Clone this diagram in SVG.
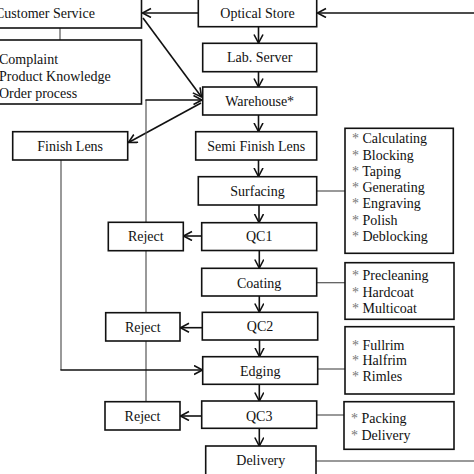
<svg xmlns="http://www.w3.org/2000/svg" width="474" height="474" viewBox="0 0 474 474">
<style>
  .box { fill: #fff; stroke: #111; stroke-width: 1.6; }
  .t { font-family: "Liberation Serif", "Times New Roman", serif; font-size: 14px; fill: #111; }
  .c { text-anchor: middle; }
  .ast { fill: #777; }
  .arr { fill: none; stroke: #111; stroke-width: 1.6; marker-end: url(#ah); }
  .thin { fill: none; stroke: #555; stroke-width: 1.2; }
</style>
<defs>
  <marker id="ah" markerWidth="12" markerHeight="12" refX="9" refY="5" orient="auto" markerUnits="userSpaceOnUse">
    <path d="M0.5,0.5 L9,5 L0.5,9.5" fill="none" stroke="#111" stroke-width="1.6"/>
  </marker>
</defs>
<rect width="474" height="474" fill="#fff"/>

<g id="connectors">
  <path class="arr" d="M474,13 H317.5"/>
  <path class="arr" d="M198,13 H142.5"/>
  <path class="arr" d="M143,18 L201.5,97"/>
  <path class="arr" d="M258.5,27 V43"/>
  <path class="arr" d="M258.5,72 V87"/>
  <path class="arr" d="M201,103 L128.5,142.5"/>
  <path class="arr" d="M258.5,115 V131.5"/>
  <path class="arr" d="M258.5,160 V176.5"/>
  <path class="arr" d="M259,205 V222.5"/>
  <path class="arr" d="M259.3,250.5 V268"/>
  <path class="arr" d="M259.3,296 V312"/>
  <path class="arr" d="M259.5,340 V356.5"/>
  <path class="arr" d="M259.3,384.3 V401"/>
  <path class="arr" d="M259.3,428.3 V446"/>
  <path class="arr" d="M201.7,236 H183.5"/>
  <path class="arr" d="M202.3,327.7 H180.5"/>
  <path class="arr" d="M201.7,416 H180.5"/>
  <path class="thin" d="M146,401.7 V100"/>
  <path class="arr" d="M145.4,100 H202"/>
  <path class="thin" d="M61,160 V370"/>
  <path class="arr" d="M60.4,370 H202.5"/>
  <path class="thin" d="M60,28 V40"/>
  <path class="thin" d="M316.7,191 H345"/>
  <path class="thin" d="M316.7,282.7 H345"/>
  <path class="thin" d="M317.7,369 H345"/>
  <path class="thin" d="M316.7,415 H344"/>
  <path class="thin" d="M316,461 H474" style="stroke:#777;stroke-width:1.6"/>
</g>

<g id="customer-service">
  <rect class="box" x="-20" y="-2" width="161.5" height="30"/>
  <text class="t" x="-5" y="18">Customer Service</text>
</g>
<g id="cs-tasks">
  <rect class="box" x="-20" y="40" width="161.5" height="64"/>
  <text class="t" x="-1" y="64">Complaint</text>
  <text class="t" x="-1" y="81">Product Knowledge</text>
  <text class="t" x="-1" y="98">Order process</text>
</g>
<g id="optical-store">
  <rect class="box" x="198.3" y="-2" width="118.4" height="28.7"/>
  <text class="t c" x="257.5" y="18">Optical Store</text>
</g>
<g id="lab-server">
  <rect class="box" x="202.7" y="43.3" width="114" height="28.4"/>
  <text class="t c" x="259.7" y="62">Lab. Server</text>
</g>
<g id="warehouse">
  <rect class="box" x="202.7" y="87" width="114" height="28"/>
  <text class="t c" x="259.7" y="105.5">Warehouse*</text>
</g>
<g id="finish-lens">
  <rect class="box" x="12.7" y="131.7" width="115" height="28.3"/>
  <text class="t c" x="70.2" y="150.5">Finish Lens</text>
</g>
<g id="semi-finish-lens">
  <rect class="box" x="195.7" y="131.7" width="121" height="28.3"/>
  <text class="t c" x="256.2" y="150.5">Semi Finish Lens</text>
</g>
<g id="surfacing">
  <rect class="box" x="198.3" y="176.7" width="118.4" height="28.3"/>
  <text class="t c" x="257.5" y="195.5">Surfacing</text>
</g>
<g id="surfacing-steps">
  <rect class="box" x="345" y="128.3" width="108.3" height="125"/>
  <text class="t" x="352" y="143"><tspan class="ast">*</tspan> Calculating</text>
  <text class="t" x="352" y="159.5"><tspan class="ast">*</tspan> Blocking</text>
  <text class="t" x="352" y="176"><tspan class="ast">*</tspan> Taping</text>
  <text class="t" x="352" y="192"><tspan class="ast">*</tspan> Generating</text>
  <text class="t" x="352" y="208"><tspan class="ast">*</tspan> Engraving</text>
  <text class="t" x="352" y="224.5"><tspan class="ast">*</tspan> Polish</text>
  <text class="t" x="352" y="241"><tspan class="ast">*</tspan> Deblocking</text>
</g>
<g id="qc1">
  <rect class="box" x="201.7" y="222.7" width="115" height="27.8"/>
  <text class="t c" x="259.2" y="241">QC1</text>
</g>
<g id="reject1">
  <rect class="box" x="108.3" y="222.3" width="75" height="28.4"/>
  <text class="t c" x="145.8" y="241">Reject</text>
</g>
<g id="coating">
  <rect class="box" x="201.7" y="268.3" width="115" height="27.7"/>
  <text class="t c" x="259.2" y="287.5">Coating</text>
</g>
<g id="coating-steps">
  <rect class="box" x="345" y="262.7" width="109" height="56.6"/>
  <text class="t" x="352" y="280"><tspan class="ast">*</tspan> Precleaning</text>
  <text class="t" x="352" y="296.5"><tspan class="ast">*</tspan> Hardcoat</text>
  <text class="t" x="352" y="313"><tspan class="ast">*</tspan> Multicoat</text>
</g>
<g id="qc2">
  <rect class="box" x="202.3" y="312.3" width="115.4" height="27.7"/>
  <text class="t c" x="260" y="331">QC2</text>
</g>
<g id="reject2">
  <rect class="box" x="105.7" y="312.7" width="74.3" height="28.3"/>
  <text class="t c" x="142.8" y="331.5">Reject</text>
</g>
<g id="edging">
  <rect class="box" x="202.7" y="356.7" width="115" height="27.6"/>
  <text class="t c" x="260.2" y="376">Edging</text>
</g>
<g id="edging-steps">
  <rect class="box" x="345" y="326.7" width="109" height="67.3"/>
  <text class="t" x="352" y="350"><tspan class="ast">*</tspan> Fullrim</text>
  <text class="t" x="352" y="365"><tspan class="ast">*</tspan> Halfrim</text>
  <text class="t" x="352" y="381"><tspan class="ast">*</tspan> Rimles</text>
</g>
<g id="qc3">
  <rect class="box" x="201.7" y="401" width="115" height="27.3"/>
  <text class="t c" x="259.2" y="420.5">QC3</text>
</g>
<g id="reject3">
  <rect class="box" x="105" y="401.7" width="75" height="28.3"/>
  <text class="t c" x="142.5" y="420.5">Reject</text>
</g>
<g id="qc3-steps">
  <rect class="box" x="344" y="401.7" width="110" height="47.6"/>
  <text class="t" x="351" y="423"><tspan class="ast">*</tspan> Packing</text>
  <text class="t" x="351" y="440"><tspan class="ast">*</tspan> Delivery</text>
</g>
<g id="delivery">
  <rect class="box" x="205.7" y="446" width="110.3" height="32"/>
  <text class="t c" x="260.8" y="465">Delivery</text>
</g>
</svg>
